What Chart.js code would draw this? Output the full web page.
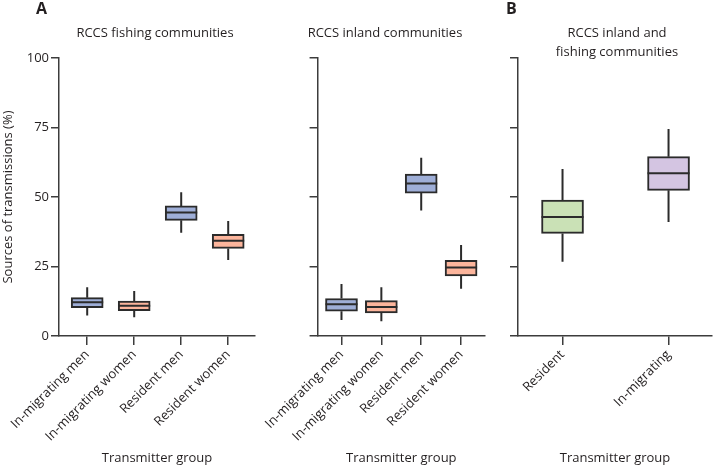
<!DOCTYPE html>
<html>
<head>
<meta charset="utf-8">
<script src="https://cdn.jsdelivr.net/npm/chart.js@4"></script>
<style>
  body { margin: 0; background: #fff; }
  #wrap { position: relative; width: 713px; height: 466px; font-family: "Open Sans", sans-serif; color: #231f20; }
  canvas { position: absolute; top: 0; }
  .lbl { position: absolute; font-size: 13px; line-height: 19px; text-align: center; white-space: nowrap; transform: translateX(-50%); }
  .panel { position: absolute; font-size: 16px; font-weight: bold; }
</style>
</head>
<body>
<div id="wrap">
  <canvas id="c1" width="262" height="466" style="left:0"></canvas>
  <canvas id="c2" width="230" height="466" style="left:262px"></canvas>
  <canvas id="c3" width="221" height="466" style="left:492px"></canvas>
  <div class="panel" style="left:36px;top:-3px">A</div>
  <div class="panel" style="left:506px;top:-3px">B</div>
  <div class="lbl" style="left:155px;top:23px">RCCS fishing communities</div>
  <div class="lbl" style="left:385px;top:23px">RCCS inland communities</div>
  <div class="lbl" style="left:617px;top:23px">RCCS inland and<br>fishing communities</div>
</div>
<script>
// Tick labels
const groupLabels = ['In-migrating men', 'In-migrating women', 'Resident men', 'Resident women'];
const combinedLabels = ['Resident', 'In-migrating'];
const yTicks = [0, 25, 50, 75, 100];

// RCCS fishing communities
const fishingMin = [7.4, 6.7, 37.1, 27.3];
const fishingQ1 = [10.2, 9.1, 41.6, 31.5];
const fishingMedian = [12.1, 10.9, 44.4, 34.3];
const fishingQ3 = [13.8, 12.6, 46.8, 36.6];
const fishingMax = [17.5, 16.2, 51.7, 41.4];

// RCCS inland communities
const inlandMin = [5.8, 5.3, 45.1, 17.0];
const inlandQ1 = [8.9, 8.3, 51.4, 21.6];
const inlandMedian = [11.4, 10.4, 54.9, 24.6];
const inlandQ3 = [13.5, 12.7, 58.2, 27.2];
const inlandMax = [18.7, 17.5, 64.1, 32.7];

// RCCS inland and fishing communities
const combinedMin = [26.7, 41.0];
const combinedQ1 = [36.9, 52.4];
const combinedMedian = [42.8, 58.5];
const combinedQ3 = [48.9, 64.5];
const combinedMax = [60.1, 74.5];

const BLUE = '#9eaed7';
const SALMON = '#fcb59c';
const GREEN = '#cae1b6';
const PURPLE = '#d4c5e2';
const INK = '#2b2b2b';
const AXIS = '#3c3c3c';

// whiskers + median drawn on top of the floating bars
const boxPlugin = {
    id: 'boxExtras',
    afterDatasetsDraw(chart) {
        const ctx = chart.ctx;
        const xs = chart.scales.x;
        const ys = chart.scales.y;
        const ds = chart.data.datasets[0];
        const st = ds.stats;
        const half = ds.barThickness / 2;
        ctx.save();
        ctx.strokeStyle = INK;
        ctx.lineWidth = 2;
        st.median.forEach((m, i) => {
            const x = xs.getPixelForValue(i);
            ctx.beginPath();
            ctx.moveTo(x, ys.getPixelForValue(st.q3[i]));
            ctx.lineTo(x, ys.getPixelForValue(st.max[i]));
            ctx.moveTo(x, ys.getPixelForValue(st.q1[i]));
            ctx.lineTo(x, ys.getPixelForValue(st.min[i]));
            ctx.moveTo(x - half, ys.getPixelForValue(m));
            ctx.lineTo(x + half, ys.getPixelForValue(m));
            ctx.stroke();
        });
        ctx.restore();
    }
};

function makeChart(id, opts) {
    const labels = opts.labels;
    new Chart(document.getElementById(id), {
        type: 'bar',
        data: {
            datasets: [{
                data: labels.map((_, i) => ({ x: i, y: [opts.q1[i], opts.q3[i]] })),
                backgroundColor: opts.colors,
                borderColor: INK,
                borderWidth: 2,
                borderSkipped: false,
                barThickness: opts.boxWidth,
                stats: { min: opts.min, q1: opts.q1, median: opts.median, q3: opts.q3, max: opts.max }
            }]
        },
        options: {
            responsive: false,
            devicePixelRatio: 1,
            animation: false,
            layout: { padding: { top: 58, right: opts.padRight, left: 0, bottom: 0 } },
            plugins: { legend: { display: false }, tooltip: { enabled: false } },
            scales: {
                x: {
                    type: 'linear',
                    offset: false,
                    min: opts.xMin,
                    max: opts.xMax,
                    afterBuildTicks: s => { s.ticks = labels.map((_, i) => ({ value: i })); },
                    afterFit: s => { s.height = 130; },
                    grid: { offset: false, drawOnChartArea: false, drawTicks: true, tickLength: 9, color: AXIS, lineWidth: 1.5 },
                    border: { color: AXIS, width: 1.5 },
                    ticks: {
                        autoSkip: false,
                        minRotation: 45,
                        maxRotation: 45,
                        padding: 2,
                        color: '#231f20',
                        font: { family: 'Open Sans', size: 13 },
                        callback: v => labels[v]
                    },
                    title: {
                        display: true,
                        text: 'Transmitter group',
                        color: '#231f20',
                        font: { family: 'Open Sans', size: 13 },
                        padding: { top: 4, bottom: 0 }
                    }
                },
                y: {
                    min: 0,
                    max: 100,
                    afterBuildTicks: s => { s.ticks = yTicks.map(v => ({ value: v })); },
                    afterFit: s => { s.width = opts.yWidth; },
                    grid: { drawOnChartArea: false, drawTicks: true, tickLength: 8, color: AXIS, lineWidth: 1.5 },
                    border: { color: AXIS, width: 1.5 },
                    ticks: {
                        display: opts.showY,
                        padding: 2,
                        color: '#231f20',
                        font: { family: 'Open Sans', size: 13 }
                    },
                    title: {
                        display: opts.showY,
                        text: 'Sources of transmissions (%)',
                        color: '#231f20',
                        font: { family: 'Open Sans', size: 13 },
                        padding: { top: 0, bottom: 0 }
                    }
                }
            }
        },
        plugins: [boxPlugin]
    });
}

makeChart('c1', {
    labels: groupLabels, min: fishingMin, q1: fishingQ1, median: fishingMedian, q3: fishingQ3, max: fishingMax,
    colors: [BLUE, SALMON, BLUE, SALMON], boxWidth: 32, xMin: -0.6, xMax: 3.57, yWidth: 59, padRight: 7, showY: true
});
makeChart('c2', {
    labels: groupLabels, min: inlandMin, q1: inlandQ1, median: inlandMedian, q3: inlandQ3, max: inlandMax,
    colors: [BLUE, SALMON, BLUE, SALMON], boxWidth: 32, xMin: -0.6, xMax: 3.6, yWidth: 26, padRight: 7, showY: false
});
makeChart('c3', {
    labels: combinedLabels, min: combinedMin, q1: combinedQ1, median: combinedMedian, q3: combinedQ3, max: combinedMax,
    colors: [GREEN, PURPLE], boxWidth: 42, xMin: -0.42, xMax: 1.41, yWidth: 26, padRight: 1, showY: false
});
</script>
</body>
</html>
